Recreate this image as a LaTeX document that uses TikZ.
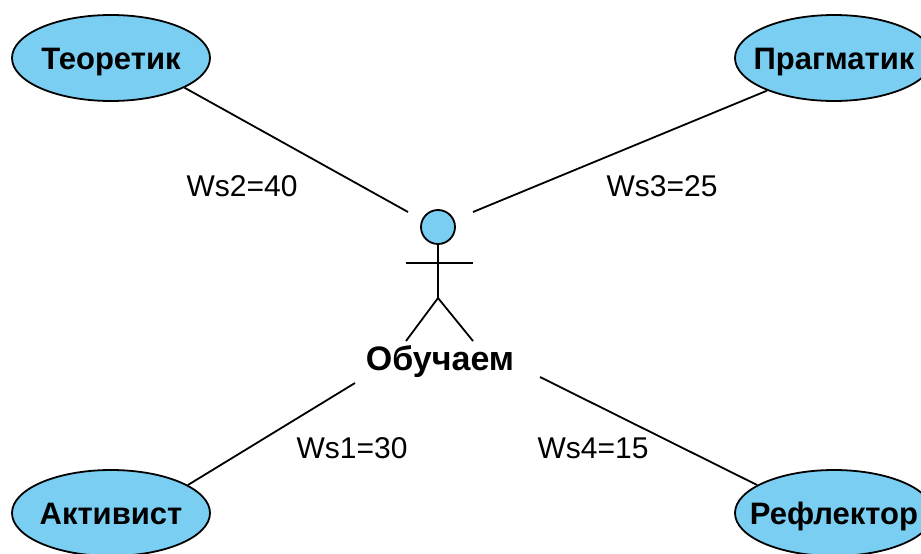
\documentclass[tikz,border=0pt]{standalone}
\usepackage{fontspec}
\setmainfont{Liberation Sans}
\usetikzlibrary{shapes.geometric}
\definecolor{ucblue}{RGB}{122,206,242}
\tikzset{
  usecase/.style={
    % The shape:
    shape=ellipse,
    % The size (kept fixed, whatever the text):
    minimum width=198pt, minimum height=86pt,
    inner xsep=-25pt, inner ysep=0pt,
    text height=22pt, text depth=0pt,
    % The border and filling:
    draw=black, line width=1.8pt,
    fill=ucblue,
    font=\fontsize{31}{36}\selectfont\bfseries
  },
  weight/.style={font=\fontsize{30}{35}\selectfont},
  link/.style={line width=1.8pt}
}

\begin{document}
\begin{tikzpicture}[x=1pt,y=-1pt]
	\clip (0,0) rectangle (921,554);
	\useasboundingbox (0,0) rectangle (921,554);
	% the four learning styles
	\node[usecase] (teor) at (111,58) {Теоретик};
	\node[usecase] (prag) at (834,58) {Прагматик};
	\node[usecase] (akt) at (111,513) {Активист};
	\node[usecase] (refl) at (834,513) {Рефлектор};
	% the actor
	\node[circle,draw=black,link,fill=ucblue,minimum size=34pt,inner sep=0pt] (head) at (438,227) {};
	\coordinate (hip) at (438,298);
	\draw[link] (head.south) -- (hip);
	\draw[link] (406,263) -- (473,263);
	\draw[link] (406,341) -- (hip) -- (473,341);
	\node[font=\fontsize{34}{39}\selectfont\bfseries] (learner) at (440,362) {Обучаем};
	% free ends near the actor
	\coordinate (e2) at (408,212);
	\coordinate (e3) at (473,212);
	\coordinate (e1) at (355,383);
	\coordinate (e4) at (540,377);
	\draw[link] (teor.-22) -- (e2);
	\draw[link] (prag.206) -- (e3);
	\draw[link] (akt.20) -- (e1);
	\draw[link] (refl.160) -- (e4);
	% the weights
	\node[weight] (w2) at (242,186) {Ws2=40};
	\node[weight] (w3) at (662,186) {Ws3=25};
	\node[weight] (w1) at (352,448) {Ws1=30};
	\node[weight] (w4) at (593,448) {Ws4=15};
\end{tikzpicture}
\end{document}
